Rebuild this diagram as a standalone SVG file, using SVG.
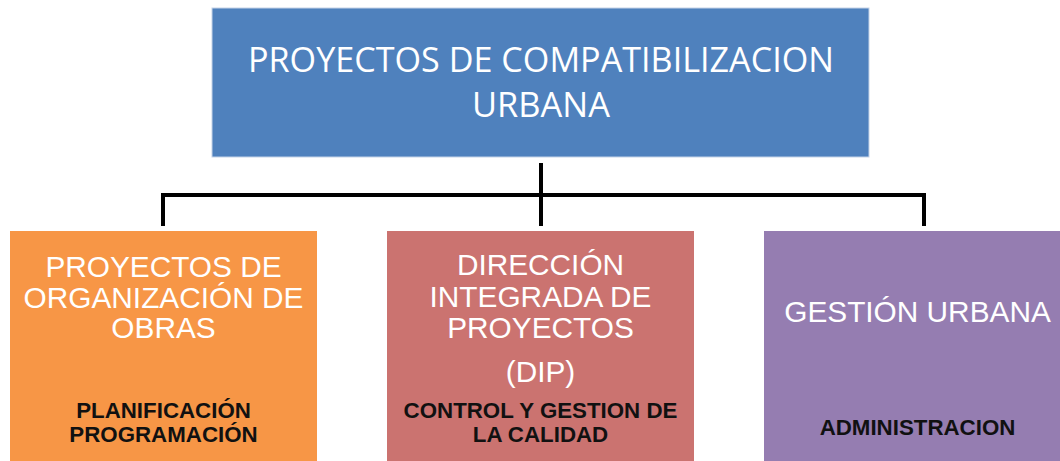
<svg xmlns="http://www.w3.org/2000/svg" width="1060" height="461" viewBox="0 0 1060 461">
<style>
.title{font-family:"Open Sans","Liberation Sans",sans-serif;font-size:35px;fill:#fff;text-anchor:middle}
.lbl{font-family:"Liberation Sans",Arial,sans-serif;font-size:29.8px;fill:#fff;text-anchor:middle}
.sub{font-family:"Liberation Sans",Arial,sans-serif;font-size:22.3px;font-weight:bold;fill:#111;text-anchor:middle}
.conn{stroke:#000;stroke-width:4;fill:none}
</style>
<rect width="1060" height="461" fill="#fff"/>
<g id="connectors">
<path class="conn" d="M163 195H924M541 163V226M163 193V226M924 193V226"/>
</g>
<g id="root">
<rect x="212" y="8" width="657" height="149" fill="#4F81BD" stroke="#c5d3e8" stroke-width="1"/>
<text class="title" x="541" y="72" textLength="586" lengthAdjust="spacingAndGlyphs">PROYECTOS DE COMPATIBILIZACION</text>
<text class="title" x="541" y="117" textLength="138" lengthAdjust="spacingAndGlyphs">URBANA</text>
</g>
<g id="organizacion">
<rect x="10" y="231" width="307" height="235" fill="#F79646"/>
<text class="lbl" x="163.5" y="277">PROYECTOS DE</text>
<text class="lbl" x="163.5" y="307.5">ORGANIZACIÓN DE</text>
<text class="lbl" x="163.5" y="338">OBRAS</text>
<text class="sub" x="163.5" y="418">PLANIFICACIÓN</text>
<text class="sub" x="163.5" y="442">PROGRAMACIÓN</text>
</g>
<g id="dip">
<rect x="387" y="231" width="307" height="235" fill="#CB7370"/>
<text class="lbl" x="540.5" y="275">DIRECCIÓN</text>
<text class="lbl" x="540.5" y="307">INTEGRADA DE</text>
<text class="lbl" x="540.5" y="338">PROYECTOS</text>
<text class="lbl" x="540.5" y="382">(DIP)</text>
<text class="sub" x="540.5" y="418">CONTROL Y GESTION DE</text>
<text class="sub" x="540.5" y="442">LA CALIDAD</text>
</g>
<g id="gestion">
<rect x="764" y="231" width="307" height="235" fill="#957DB1"/>
<text class="lbl" x="917.5" y="322">GESTIÓN URBANA</text>
<text class="sub" x="917.5" y="435">ADMINISTRACION</text>
</g>
</svg>
